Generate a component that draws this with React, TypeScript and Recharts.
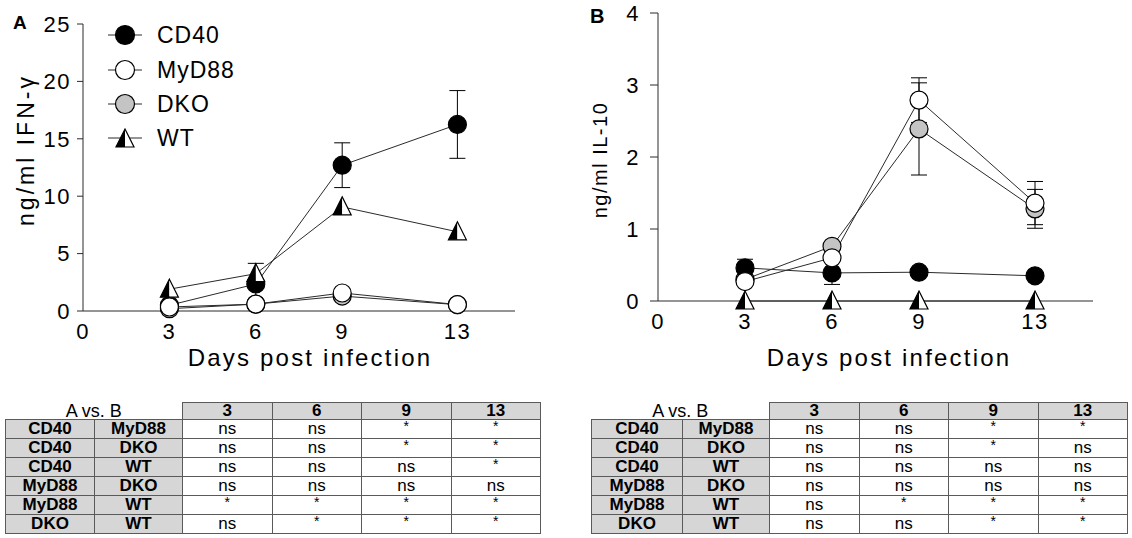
import React from 'react';
import { LineChart, Line, XAxis, YAxis, ErrorBar } from 'recharts';

const FONT = "Arial, 'Liberation Sans', Helvetica, sans-serif";

// days post infection
const days = [3, 6, 9, 13];
const dayTicks = [0, 3, 6, 9, 13];

// panel A: IFN-γ (ng/ml)
const ifnTicks = [0, 5, 10, 15, 20, 25];
const ifnCD40 = [0.5, 2.35, 12.7, 16.25];
const ifnCD40Err = [null, 1.8, 1.95, 2.95];
const ifnMyD88 = [0.35, 0.6, 1.57, 0.56];
const ifnDKO = [0.2, 0.6, 1.3, 0.55];
const ifnWT = [1.9, 3.25, 9.07, 6.9];

// panel B: IL-10 (ng/ml)
const il10Ticks = [0, 1, 2, 3, 4];
const il10CD40 = [0.46, 0.39, 0.4, 0.35];
const il10CD40Err = [0.12, 0.16, null, null];
const il10MyD88 = [0.27, 0.6, 2.79, 1.36];
const il10MyD88Err = [null, null, 0.31, 0.3];
const il10DKO = [0.3, 0.76, 2.39, 1.28];
const il10DKOErr = [null, null, 0.64, 0.27];
const il10WT = [0, 0, 0, 0];

// pairwise comparisons under each panel
const groupA = ['CD40', 'CD40', 'CD40', 'MyD88', 'MyD88', 'DKO'];
const groupB = ['MyD88', 'DKO', 'WT', 'DKO', 'WT', 'WT'];
const ifnSig = [
  ['ns', 'ns', '*', '*'],
  ['ns', 'ns', '*', '*'],
  ['ns', 'ns', 'ns', '*'],
  ['ns', 'ns', 'ns', 'ns'],
  ['*', '*', '*', '*'],
  ['ns', '*', '*', '*'],
];
const il10Sig = [
  ['ns', 'ns', '*', '*'],
  ['ns', 'ns', '*', 'ns'],
  ['ns', 'ns', 'ns', 'ns'],
  ['ns', 'ns', 'ns', 'ns'],
  ['ns', '*', '*', '*'],
  ['ns', 'ns', '*', '*'],
];

const legendNames = ['CD40', 'MyD88', 'DKO', 'WT'];

const GRAY = '#c4c4c4';
const LINE = '#2a2a2a';

const circleDot = (fill: string) => (props: any) => {
  const { cx, cy, index } = props;
  if (cx == null || cy == null) return <g key={`e${index}`} />;
  return <circle key={`c${index}`} cx={cx} cy={cy} r={9} fill={fill} stroke="#000" strokeWidth={1.2} />;
};

function HalfTriangle({ cx, cy }: { cx: number; cy: number }) {
  const top = cy - 10;
  const base = cy + 8;
  return (
    <g>
      <path d={`M${cx},${top} L${cx},${base} L${cx - 9},${base} Z`} fill="#000" />
      <path d={`M${cx},${top} L${cx + 9},${base} L${cx},${base} Z`} fill="#fff" />
      <path d={`M${cx},${top} L${cx + 9},${base} L${cx - 9},${base} Z`} fill="none" stroke="#000" strokeWidth={1.2} />
    </g>
  );
}

const triangleDot = (props: any) => {
  const { cx, cy, index } = props;
  if (cx == null || cy == null) return <g key={`e${index}`} />;
  return <HalfTriangle key={`t${index}`} cx={cx} cy={cy} />;
};

const tickStyle = { fill: '#000', fontSize: 22, fontFamily: FONT, style: { letterSpacing: '1.5px' } };

type PanelProps = {
  left: number;
  rows: any[];
  ticks: number[];
  yMax: number;
  margin: { top: number; right: number; bottom: number; left: number };
  ySize: number;
  yGap: number;
};

function Panel({ left, rows, ticks, yMax, margin, ySize, yGap }: PanelProps) {
  return (
    <div style={{ position: 'absolute', left, top: 0 }}>
      <LineChart width={540} height={380} data={rows} margin={margin}>
        <XAxis
          type="number"
          dataKey="day"
          domain={[0, 15]}
          ticks={dayTicks}
          interval={0}
          height={30}
          tickLine={false}
          tickSize={4}
          tickMargin={8}
          axisLine={{ stroke: LINE }}
          tick={tickStyle}
        />
        <YAxis
          type="number"
          domain={[0, yMax]}
          ticks={ticks}
          interval={0}
          width={41}
          tickSize={ySize}
          tickMargin={yGap}
          axisLine={{ stroke: LINE }}
          tickLine={{ stroke: LINE }}
          tick={tickStyle}
        />
        <Line dataKey="dko" stroke={LINE} strokeWidth={1} dot={circleDot(GRAY)} activeDot={false} isAnimationActive={false}>
          <ErrorBar dataKey="dkoErr" width={8} stroke="#000" strokeWidth={1} direction="y" isAnimationActive={false} />
        </Line>
        <Line dataKey="cd40" stroke={LINE} strokeWidth={1} dot={circleDot('#000')} activeDot={false} isAnimationActive={false}>
          <ErrorBar dataKey="cd40Err" width={8} stroke="#000" strokeWidth={1} direction="y" isAnimationActive={false} />
        </Line>
        <Line dataKey="myd88" stroke={LINE} strokeWidth={1} dot={circleDot('#fff')} activeDot={false} isAnimationActive={false}>
          <ErrorBar dataKey="myd88Err" width={8} stroke="#000" strokeWidth={1} direction="y" isAnimationActive={false} />
        </Line>
        <Line dataKey="wt" stroke={LINE} strokeWidth={1} dot={triangleDot} activeDot={false} isAnimationActive={false} />
      </LineChart>
    </div>
  );
}

function SigTable({ left, colWidths, sig }: { left: number; colWidths: number[]; sig: string[][] }) {
  const border = '1px solid #5a5a5a';
  const fill = '#d6d6d6';
  const base: React.CSSProperties = { border, padding: 0, textAlign: 'center', fontSize: 17, lineHeight: '16px' };
  return (
    <table
      style={{
        position: 'absolute',
        left,
        top: 402,
        width: colWidths.reduce((a, b) => a + b, 0),
        borderCollapse: 'collapse',
        tableLayout: 'fixed',
        fontFamily: FONT,
        color: '#000',
      }}
    >
      <colgroup>
        {colWidths.map((w, i) => (
          <col key={i} style={{ width: w }} />
        ))}
      </colgroup>
      <thead>
        <tr style={{ height: 16 }}>
          <th colSpan={2} style={{ padding: 0, border: 'none', fontWeight: 'normal', fontSize: 18, lineHeight: '16px', textAlign: 'center' }}>
            A vs. B
          </th>
          {days.map((d) => (
            <th key={d} style={{ ...base, background: fill, fontWeight: 'bold' }}>
              {d}
            </th>
          ))}
        </tr>
      </thead>
      <tbody>
        {sig.map((row, r) => (
          <tr key={r} style={{ height: 19 }}>
            <td style={{ ...base, background: fill, fontWeight: 'bold' }}>{groupA[r]}</td>
            <td style={{ ...base, background: fill, fontWeight: 'bold' }}>{groupB[r]}</td>
            {row.map((s, c) => (
              <td key={c} style={{ ...base, background: '#fff' }}>
                {s === '*' ? <span style={{ fontSize: 14, position: 'relative', top: -3 }}>*</span> : s}
              </td>
            ))}
          </tr>
        ))}
      </tbody>
    </table>
  );
}

function Legend() {
  const rowsY = [35, 70, 104, 138];
  return (
    <svg width={300} height={160} style={{ position: 'absolute', left: 0, top: 0, overflow: 'visible' }}>
      {legendNames.map((name, i) => {
        const y = rowsY[i];
        return (
          <g key={name}>
            <line x1={108} x2={142} y1={y} y2={y} stroke={LINE} strokeWidth={1} />
            {name === 'WT' ? (
              <HalfTriangle cx={125} cy={y + 1} />
            ) : (
              <circle cx={125} cy={y} r={9.5} fill={name === 'CD40' ? '#000' : name === 'MyD88' ? '#fff' : GRAY} stroke="#000" strokeWidth={1.2} />
            )}
            <text x={157} y={y} dominantBaseline="central" fontSize={23} fontFamily={FONT} fill="#000" style={{ letterSpacing: '1px' }}>
              {name}
            </text>
          </g>
        );
      })}
    </svg>
  );
}

const abs = (extra: React.CSSProperties): React.CSSProperties => ({
  position: 'absolute',
  fontFamily: FONT,
  color: '#000',
  whiteSpace: 'nowrap',
  lineHeight: 1,
  ...extra,
});

export default function App() {
  const ifnRows = days.map((day, i) => ({
    day,
    cd40: ifnCD40[i],
    cd40Err: ifnCD40Err[i],
    myd88: ifnMyD88[i],
    dko: ifnDKO[i],
    wt: ifnWT[i],
  }));
  const il10Rows = days.map((day, i) => ({
    day,
    cd40: il10CD40[i],
    cd40Err: il10CD40Err[i],
    myd88: il10MyD88[i],
    myd88Err: il10MyD88Err[i],
    dko: il10DKO[i],
    dkoErr: il10DKOErr[i],
    wt: il10WT[i],
  }));

  return (
    <div style={{ position: 'absolute', left: 0, top: 0, width: 1132, height: 538, background: '#fff', overflow: 'hidden' }}>
      <Panel
        left={0}
        rows={ifnRows}
        ticks={ifnTicks}
        yMax={25}
        margin={{ top: 24, right: 25, bottom: 39, left: 42 }}
        ySize={6}
        yGap={6}
      />
      <Panel
        left={570}
        rows={il10Rows}
        ticks={il10Ticks}
        yMax={4}
        margin={{ top: 13, right: 17, bottom: 49, left: 47 }}
        ySize={8}
        yGap={10}
      />
      <Legend />

      <div style={abs({ left: 13, top: 13, fontSize: 19, fontWeight: 'bold' })}>A</div>
      <div style={abs({ left: 590, top: 6, fontSize: 20, fontWeight: 'bold' })}>B</div>

      <div style={abs({ left: 26, top: 150, fontSize: 23, letterSpacing: '3px', transform: 'translate(-50%, -50%) rotate(-90deg)' })}>
        ng/ml IFN-γ
      </div>
      <div style={abs({ left: 600, top: 160, fontSize: 20, letterSpacing: '1.5px', transform: 'translate(-50%, -50%) rotate(-90deg)' })}>
        ng/ml IL-10
      </div>

      <div style={abs({ left: 310, top: 358, fontSize: 24, letterSpacing: '2.2px', transform: 'translate(-50%, -50%)' })}>
        Days post infection
      </div>
      <div style={abs({ left: 889, top: 358, fontSize: 24, letterSpacing: '2.2px', transform: 'translate(-50%, -50%)' })}>
        Days post infection
      </div>

      <SigTable left={5} colWidths={[89, 88, 89.5, 89.5, 89.5, 89.5]} sig={ifnSig} />
      <SigTable left={591} colWidths={[91, 87, 89.5, 89.5, 89.5, 89.5]} sig={il10Sig} />
    </div>
  );
}
